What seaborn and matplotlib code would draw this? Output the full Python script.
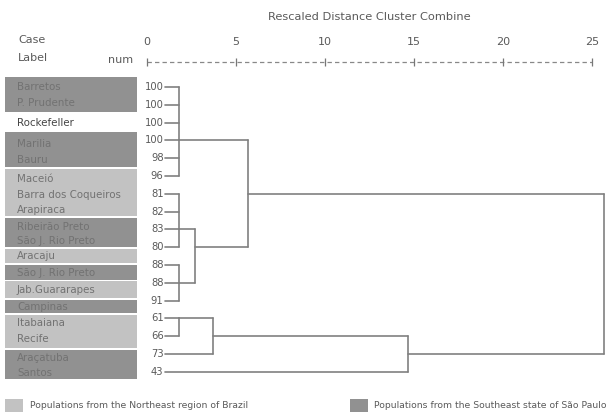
import matplotlib
matplotlib.use("Agg")
import matplotlib.pyplot as plt
import seaborn as sns
import pandas as pd
from matplotlib.patches import Rectangle

# ---------------- data ----------------
case_labels = ["Barretos", "P. Prudente", "Rockefeller", "Marilia", "Bauru",
               "Maceió", "Barra dos Coqueiros", "Arapiraca", "Ribeirão Preto",
               "São J. Rio Preto", "Aracaju", "São J. Rio Preto", "Jab.Guararapes",
               "Campinas", "Itabaiana", "Recife", "Araçatuba", "Santos"]
case_region = ["SE", "SE", "", "SE", "SE", "NE", "NE", "NE", "SE", "SE",
               "NE", "SE", "NE", "SE", "NE", "NE", "SE", "SE"]
case_nums = [100, 100, 100, 100, 98, 96, 81, 82, 83, 80, 88, 88, 91, 61, 66, 73, 43]
scale_ticks = [0, 5, 10, 15, 20, 25]
# merges: children (leaf row index or cluster name), combine distance, representative row
merge_names = ["A", "B1", "B2", "B", "AB", "C1", "C2", "C", "root"]
merge_children = [[0, 1, 2, 3, 4, 5], [6, 7, 8, 9], [10, 11, 12], ["B1", "B2"],
                  ["A", "B"], [13, 14], ["C1", 15], ["C2", 16], ["AB", "C"]]
merge_dist = [1.8, 1.8, 1.8, 2.7, 5.67, 1.8, 3.7, 14.66, 25.67]
merge_rep_row = [3, 8, 11, 9, 6, 13, 14, 15, None]
leaf_start = 1.0
legend_labels = ["Populations from the Northeast region of Brazil",
                 "Populations from the Southeast state of São Paulo"]

# ---------------- layout helpers ----------------
PX0, PXU = 147.0, 17.8   # pixel of distance 0, pixels per unit
PY0, PYU = 87.0, 17.8    # pixel of row 0, pixels per row
W, H = 606, 417

def X(px):
    return (px - PX0) / PXU

def Y(py):
    return (py - PY0) / PYU

sns.set_theme(style="white")
plt.rcParams['font.family'] = ['DejaVu Sans']

fig = plt.figure(figsize=(W / 100, H / 100), dpi=100)
ax = fig.add_axes([0, 0, 1, 1])
ax.set_xlim(X(0), X(W))
ax.set_ylim(Y(H), Y(0))
ax.axis("off")

line_col = "#808080"
text_col = "#5a5a5a"

# ---------------- dendrogram segments ----------------
rows = {}
heights = {}
for i in range(len(case_nums)):
    rows[i] = i
    heights[i] = leaf_start
segs = []
sid = 0
for name, ch, d, rep in zip(merge_names, merge_children, merge_dist, merge_rep_row):
    ys = []
    for c in ch:
        r = rows[c]
        ys.append(r)
        segs += [(sid, heights[c], r), (sid, d, r)]
        sid += 1
    segs += [(sid, d, min(ys)), (sid, d, max(ys))]
    sid += 1
    rows[name] = rep
    heights[name] = d
seg_df = pd.DataFrame(segs, columns=["seg", "x", "y"])
sns.lineplot(data=seg_df, x="x", y="y", units="seg", estimator=None, sort=False,
             color=line_col, lw=1.2, ax=ax, legend=False)
ax.set_xlabel("")
ax.set_ylabel("")

# case numbers
for i, n in enumerate(case_nums):
    ax.text(X(163.5), i, str(n), ha="right", va="center", fontsize=7.2, color=text_col)

# ---------------- top scale ----------------
ax.text(12.5, Y(17), "Rescaled Distance Cluster Combine", ha="center", va="center",
        fontsize=8.2, color=text_col)
for t in scale_ticks:
    ax.text(t, Y(42), str(t), ha="center", va="center", fontsize=8, color=text_col)
ax.plot([scale_ticks[0], scale_ticks[-1]], [Y(62), Y(62)], color="#888888",
        lw=0.9, ls=(0, (3.5, 2.5)))
ax.plot(scale_ticks, [Y(62)] * len(scale_ticks), ls="none", marker="|", ms=6,
        mew=0.9, color="#777777")
ax.text(X(18), Y(40), "Case", ha="left", va="center", fontsize=8, color=text_col)
ax.text(X(18), Y(58), "Label", ha="left", va="center", fontsize=8, color=text_col)
ax.text(X(133), Y(60), "num", ha="right", va="center", fontsize=8, color=text_col)

# ---------------- label boxes ----------------
label_py = [87, 103, 123, 144, 160, 179, 195, 210, 227, 241, 256, 273, 290, 307,
            323, 339, 358, 373]
box_spans = [(77, 112), (132, 167), (169, 216), (218, 247), (249, 263), (265, 280),
             (281, 298), (300, 313), (315, 348), (350, 379)]
fills = {"NE": "#c2c2c2", "SE": "#919191"}
groups = []
for i, r in enumerate(case_region):
    if r and (not groups or groups[-1][0] != r or groups[-1][2] != i - 1):
        groups.append([r, i, i])
    elif r:
        groups[-1][2] = i
for (r, a, b), (top, bot) in zip(groups, box_spans):
    ax.add_patch(Rectangle((X(5), Y(top)), X(137) - X(5), Y(bot) - Y(top),
                           facecolor=fills[r], edgecolor="none", zorder=0))
for lab, r, py in zip(case_labels, case_region, label_py):
    col = "#727272" if r else "#444444"
    ax.text(X(17), Y(py), lab, ha="left", va="center", fontsize=7.4, color=col)

# ---------------- legend ----------------
for (sx, tx), lab, key in zip([(5, 30), (350, 374)], legend_labels, ["NE", "SE"]):
    ax.add_patch(Rectangle((X(sx), Y(399)), X(sx + 18) - X(sx), Y(412) - Y(399),
                           facecolor=fills[key], edgecolor="none"))
    ax.text(X(tx), Y(405.5), lab, ha="left", va="center", fontsize=6.7, color=text_col)

fig.savefig("out.png", dpi=100, facecolor="white")
